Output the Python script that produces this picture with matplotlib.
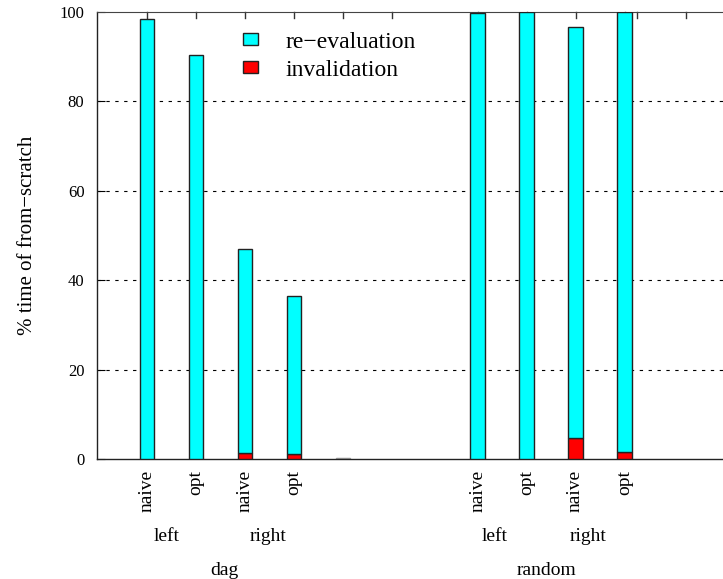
import matplotlib
matplotlib.use("Agg")
import matplotlib.pyplot as plt
from matplotlib.patches import Patch

plt.rcParams['font.family'] = ['Liberation Serif', 'DejaVu Serif']

# stacked bars: invalidation at the bottom, re-evaluation on top (% of from-scratch time)
variants = ["naive", "opt", "naive", "opt"]
strategies = ["left", "right"]
workloads = ["dag", "random"]
total_dag = [98.4, 90.4, 47.0, 36.5]
inval_dag = [0.0, 0.0, 1.3, 1.1]
total_random = [99.7, 100.0, 96.6, 100.0]
inval_random = [0.0, 0.0, 4.7, 1.5]
# an empty slot after the dag group that still leaves a sliver of a bar
empty_slot = 0.2

CYAN = "#00ffff"
RED = "#ff0000"

fig = plt.figure(figsize=(7.23, 5.79), dpi=100)
ax = fig.add_axes([97 / 723, 120 / 579, 1 - 97 / 723, 447 / 579])

pos_dag = [0, 1, 2, 3]
pos_random = [6.75, 7.75, 8.75, 9.75]
width = 0.3

for pos, total, inval in [(pos_dag, total_dag, inval_dag),
                          (pos_random, total_random, inval_random)]:
    reeval = [t - i for t, i in zip(total, inval)]
    ax.bar(pos, inval, width, color=RED, edgecolor="#222222", linewidth=1.0, zorder=3)
    ax.bar(pos, reeval, width, bottom=inval, color=CYAN, edgecolor="#222222",
           linewidth=1.0, zorder=3)
ax.bar([4], [empty_slot], width, color="#aaaaaa", edgecolor="#888888", linewidth=1.0, zorder=3)

ax.set_xlim(-1.02, 11.76)
ax.set_ylim(0, 100)

# horizontal grid, dotted like the old gnuplot output
for y in [20, 40, 60, 80]:
    ax.axhline(y, color="black", linestyle=(0, (3, 5)), linewidth=0.8, zorder=1)

ax.spines['right'].set_visible(False)
ax.spines['top'].set_color("#444444")
for side in ['left', 'bottom']:
    ax.spines[side].set_color("#222222")
    ax.spines[side].set_linewidth(1.0)

ax.set_yticks([0, 20, 40, 60, 80, 100])
ax.tick_params(axis='y', direction='in', length=6, pad=9, labelsize=12)
ax.set_xticks([])

# mirrored ticks along the top border
for x in pos_dag + [4, 5] + pos_random + [10, 11]:
    ax.plot([x, x], [100, 98.6], color="#333333", linewidth=1.0, zorder=2, clip_on=False)

ax.set_ylabel("% time of from\u2212scratch", fontsize=15, labelpad=16)

# variant names under each bar
for x, name in zip(pos_dag + pos_random, variants + variants):
    ax.text(x, -2.5, name, rotation=90, ha='center', va='top', fontsize=14)

# strategy and workload names below
strategy_x = [0.41, 2.47, 7.10, 9.0]
for x, name in zip(strategy_x, strategies + strategies):
    ax.text(x, -17.3, name, ha='center', va='center', fontsize=14)
for x, name in zip([1.59, 8.16], workloads):
    ax.text(x, -24.9, name, ha='center', va='center', fontsize=14)

handles = [Patch(facecolor=CYAN, edgecolor="#222222", label="re\u2212evaluation"),
           Patch(facecolor=RED, edgecolor="#222222", label="invalidation")]
ax.legend(handles=handles, loc='upper left', bbox_to_anchor=(0.233, 0.956),
          frameon=False, fontsize=17, handlelength=0.65, handleheight=0.42,
          handletextpad=1.15, labelspacing=0.3, borderpad=0, borderaxespad=0)

fig.savefig("out.png", dpi=100)
